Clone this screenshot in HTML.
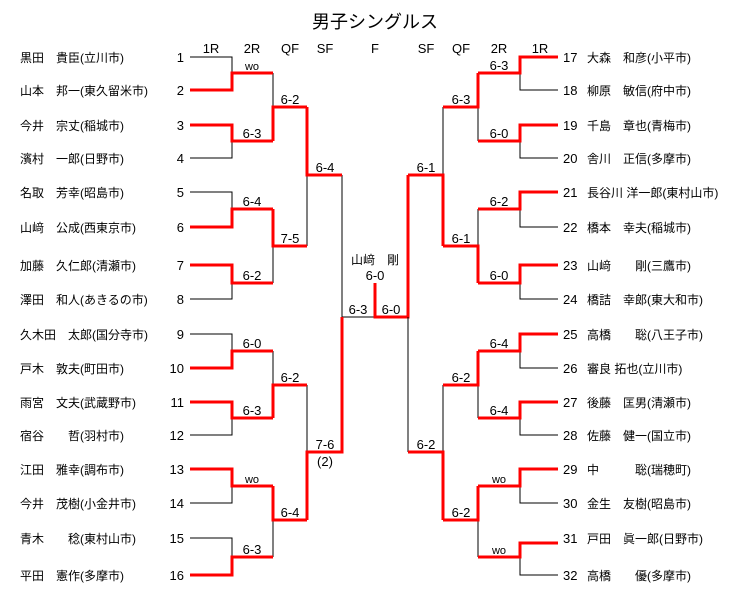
<!DOCTYPE html>
<html><head><meta charset="utf-8"><style>
html,body{margin:0;padding:0;background:#fff;}
svg{display:block;}
text{font-family:"Liberation Sans","Noto Sans CJK JP",sans-serif;font-size:13px;fill:#000;}
.n text{font-size:12px;}
.c{text-anchor:middle;}
.r{text-anchor:end;}
.k{stroke:#000;stroke-width:1;fill:none;}
.w{stroke:#f00;stroke-width:3;fill:none;}
</style></head><body>
<svg width="747" height="591" viewBox="0 0 747 591" xmlns="http://www.w3.org/2000/svg">
<text x="375" y="28" class="c" style="font-size:18px">男子シングルス</text>
<g class="c">
<text x="211" y="53">1R</text><text x="252" y="53">2R</text><text x="290" y="53">QF</text><text x="325" y="53">SF</text><text x="375" y="53">F</text>
<text x="426" y="53">SF</text><text x="461" y="53">QF</text><text x="499" y="53">2R</text><text x="540" y="53">1R</text>
</g>
<g class="n">
<text x="20" y="62">黒田　貴臣(立川市)</text>
<text x="20" y="95">山本　邦一(東久留米市)</text>
<text x="20" y="130">今井　宗丈(稲城市)</text>
<text x="20" y="163">濱村　一郎(日野市)</text>
<text x="20" y="197">名取　芳幸(昭島市)</text>
<text x="20" y="232">山﨑　公成(西東京市)</text>
<text x="20" y="270">加藤　久仁郎(清瀬市)</text>
<text x="20" y="304">澤田　和人(あきるの市)</text>
<text x="20" y="339">久木田　太郎(国分寺市)</text>
<text x="20" y="373">戸木　敦夫(町田市)</text>
<text x="20" y="407">雨宮　文夫(武蔵野市)</text>
<text x="20" y="440">宿谷　　哲(羽村市)</text>
<text x="20" y="474">江田　雅幸(調布市)</text>
<text x="20" y="508">今井　茂樹(小金井市)</text>
<text x="20" y="543">青木　　稔(東村山市)</text>
<text x="20" y="580">平田　憲作(多摩市)</text>
</g>
<g class="r">
<text x="184" y="62">1</text><text x="184" y="95">2</text><text x="184" y="130">3</text><text x="184" y="163">4</text>
<text x="184" y="197">5</text><text x="184" y="232">6</text><text x="184" y="270">7</text><text x="184" y="304">8</text>
<text x="184" y="339">9</text><text x="184" y="373">10</text><text x="184" y="407">11</text><text x="184" y="440">12</text>
<text x="184" y="474">13</text><text x="184" y="508">14</text><text x="184" y="543">15</text><text x="184" y="580">16</text>
</g>
<g>
<text x="563" y="62">17</text><text x="563" y="95">18</text><text x="563" y="130">19</text><text x="563" y="163">20</text>
<text x="563" y="197">21</text><text x="563" y="232">22</text><text x="563" y="270">23</text><text x="563" y="304">24</text>
<text x="563" y="339">25</text><text x="563" y="373">26</text><text x="563" y="407">27</text><text x="563" y="440">28</text>
<text x="563" y="474">29</text><text x="563" y="508">30</text><text x="563" y="543">31</text><text x="563" y="580">32</text>
</g>
<g class="n">
<text x="587" y="62">大森　和彦(小平市)</text>
<text x="587" y="95">柳原　敏信(府中市)</text>
<text x="587" y="130">千島　章也(青梅市)</text>
<text x="587" y="163">舎川　正信(多摩市)</text>
<text x="587" y="197">長谷川 洋一郎(東村山市)</text>
<text x="587" y="232">橋本　幸夫(稲城市)</text>
<text x="587" y="270">山﨑　　剛(三鷹市)</text>
<text x="587" y="304">橋詰　幸郎(東大和市)</text>
<text x="587" y="339">高橋　　聡(八王子市)</text>
<text x="587" y="373">審良 拓也(立川市)</text>
<text x="587" y="407">後藤　匡男(清瀬市)</text>
<text x="587" y="440">佐藤　健一(国立市)</text>
<text x="587" y="474">中　　　聡(瑞穂町)</text>
<text x="587" y="508">金生　友樹(昭島市)</text>
<text x="587" y="543">戸田　眞一郎(日野市)</text>
<text x="587" y="580">高橋　　優(多摩市)</text>
</g>
<path class="k" d="M190 57H232V73 M190 158H232V141 M190 192H232V209 M190 299H232V283
M273 73V107 M273 246V283 M307 175V246 M342 175V317H375
M190 334H232V351 M190 435H232V418 M190 503H232V486 M190 538H232V557
M273 351V385 M273 520V557 M307 385V452"/>
<path class="w" d="M190 90H232V73H273 M190 125H232V141H273 M190 227H232V209H273 M190 265H232V283H273
M273 141V107H307 M273 209V246H307 M307 107V175H342
M190 368H232V351H273 M190 402H232V418H273 M190 469H232V486H273 M190 575H232V557H273
M273 418V385H307 M273 486V520H307 M307 520V452H342V317"/>
<path class="w" d="M375 283V317H408V175"/>
<path class="k" d="M408 317V452"/>
<path class="k" d="M558 90H520V73 M558 158H520V141 M558 227H520V209 M558 299H520V283
M478 141V107 M478 209V246 M443 107V175
M558 368H520V351 M558 435H520V418 M558 503H520V486 M558 575H520V557
M478 418V385 M478 557V520 M443 385V452"/>
<path class="w" d="M558 57H520V73H478 M558 125H520V141H478 M558 192H520V209H478 M558 265H520V283H478
M478 73V107H443 M478 283V246H443 M443 246V175H408
M558 334H520V351H478 M558 402H520V418H478 M558 469H520V486H478 M558 543H520V557H478
M478 351V385H443 M478 486V520H443 M443 520V452H408"/>
<g class="c">
<text x="252" y="70" style="font-size:11px">wo</text>
<text x="252" y="138">6-3</text><text x="252" y="206">6-4</text><text x="252" y="280">6-2</text>
<text x="252" y="348">6-0</text><text x="252" y="415">6-3</text>
<text x="252" y="483" style="font-size:11px">wo</text>
<text x="252" y="554">6-3</text>
<text x="290" y="104">6-2</text><text x="290" y="243">7-5</text><text x="290" y="382">6-2</text><text x="290" y="517">6-4</text>
<text x="325" y="172">6-4</text><text x="325" y="449">7-6</text><text x="325" y="466">(2)</text>
<text x="358" y="314">6-3</text><text x="391" y="314">6-0</text>
<text x="375" y="264" style="font-size:12px">山﨑　剛</text><text x="375" y="280">6-0</text>
<text x="499" y="70">6-3</text><text x="499" y="138">6-0</text><text x="499" y="206">6-2</text><text x="499" y="280">6-0</text>
<text x="499" y="348">6-4</text><text x="499" y="415">6-4</text>
<text x="499" y="483" style="font-size:11px">wo</text><text x="499" y="554" style="font-size:11px">wo</text>
<text x="461" y="104">6-3</text><text x="461" y="243">6-1</text><text x="461" y="382">6-2</text><text x="461" y="517">6-2</text>
<text x="426" y="172">6-1</text><text x="426" y="449">6-2</text>
</g>
</svg>
</body></html>
